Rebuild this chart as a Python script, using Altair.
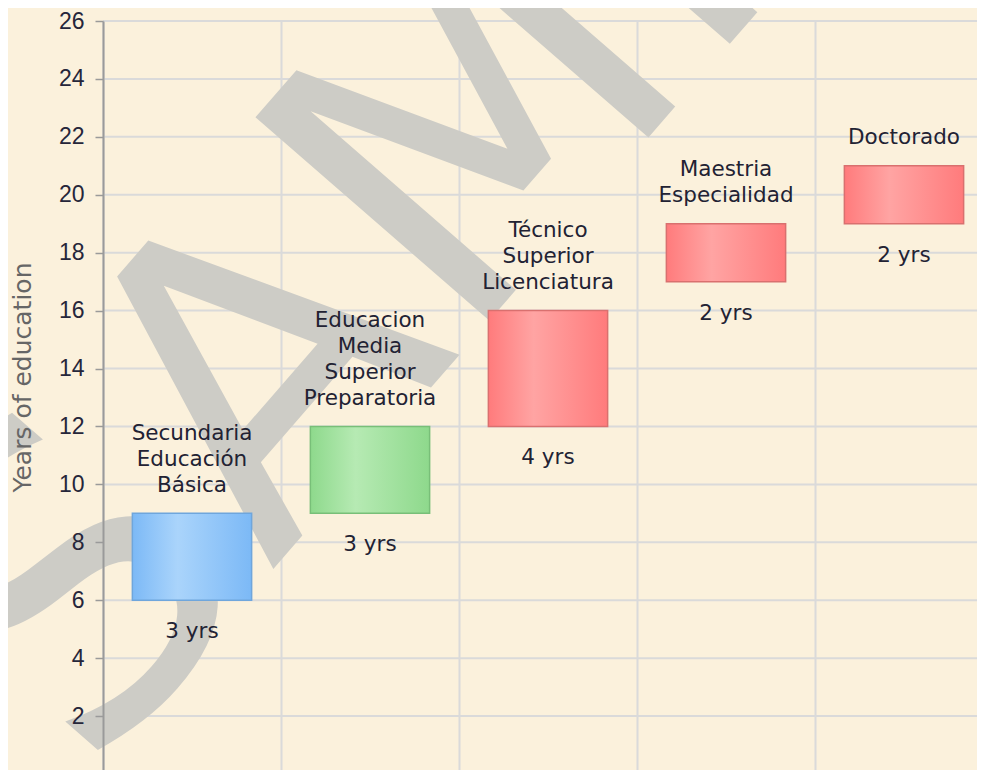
import altair as alt
import pandas as pd

# ---- data ----
levels = [
    "Secundaria Educación Básica",
    "Educacion Media Superior Preparatoria",
    "Técnico Superior Licenciatura",
    "Maestria Especialidad",
    "Doctorado",
]
level_labels = [
    "Secundaria\nEducación\nBásica",
    "Educacion\nMedia\nSuperior\nPreparatoria",
    "Técnico\nSuperior\nLicenciatura",
    "Maestria\nEspecialidad",
    "Doctorado",
]
start_years = [6, 9, 12, 17, 19]
end_years = [9, 12, 16, 19, 21]
duration_labels = ["3 yrs", "3 yrs", "4 yrs", "2 yrs", "2 yrs"]
color_groups = ["blue", "green", "red", "red", "red"]
y_ticks = list(range(0, 27, 2))
watermark_text = ["SAMPLE"]

df = pd.DataFrame({
    "level": levels,
    "label": level_labels,
    "start": start_years,
    "end": end_years,
    "dur": duration_labels,
    "group": color_groups,
})
df["slot"] = range(len(levels))          # category slot 0..4
df["nlines"] = df["label"].str.count("\n") + 1
ticks_df = pd.DataFrame({"v": y_ticks})

BG = "#FBF1DC"
GRID = "#DADADA"
LINE_H = 26
BAR_FRAC = 0.67

# visible window: the reference is a crop of a larger chart
PLOT_W, PLOT_H = 874, 749
SLOT_PX = 178.0             # width of one category slot in pixels
UNIT_PX = 753.0 / 26.0      # pixels per year of education

x_scale = alt.Scale(domain=[0, PLOT_W / SLOT_PX], nice=False, zero=False)
x_axis = alt.Axis(values=list(range(len(levels) + 1)), labels=False, ticks=False, title=None,
                  domain=False, grid=True, gridColor=GRID, gridWidth=2)
y_scale = alt.Scale(domain=[26 - PLOT_H / UNIT_PX, 26], nice=False, zero=False)
y_axis = alt.Axis(
    values=y_ticks, title="Years of education", grid=False,
    domainColor="#9A9A9A", domainWidth=2, tickColor="#9A9A9A", tickSize=8, tickWidth=1.5,
    labelFont="Liberation Sans", labelFontSize=23, labelColor="#26263A", labelPadding=11,
    titleFont="DejaVu Sans", titleFontSize=25, titleFontWeight="normal", titleColor="#666666",
    titleAngle=270, titleX=-81, titleY=356, titleAlign="center", titleBaseline="middle",
    zindex=1,
)


def grad(edge, light):
    return alt.LinearGradient(
        gradient="linear", x1=0, x2=1, y1=0, y2=0,
        stops=[
            alt.GradientStop(offset=0, color=edge),
            alt.GradientStop(offset=0.38, color=light),
            alt.GradientStop(offset=1, color=edge),
        ],
    )


styles = {
    "blue": ("#7CB9F6", "#AAD4FB", "#6FA6DC"),
    "green": ("#8ED98C", "#B6EAB3", "#78BF78"),
    "red": ("#FF7B7C", "#FFA4A3", "#D9706F"),
}

base = alt.Chart(df).transform_calculate(
    xc=alt.datum.slot + 0.5,
    xl=alt.datum.slot + (1 - BAR_FRAC) / 2,
    xr=alt.datum.slot + 1 - (1 - BAR_FRAC) / 2,
)

# horizontal grid lines at the y tick values
hgrid = alt.Chart(ticks_df).mark_rule(color=GRID, strokeWidth=2).encode(
    y=alt.Y("v:Q", scale=y_scale, axis=y_axis)
)

watermark = alt.Chart(pd.DataFrame({"t": watermark_text})).mark_text(
    font="DejaVu Sans", fontSize=425, align="left", baseline="alphabetic",
    angle=311, color="#CDCCC6",
).encode(text="t:N", x=alt.value(-14), y=alt.value(760))

bars = []
for g, (edge, light, border) in styles.items():
    bars.append(
        base.transform_filter(alt.datum.group == g)
        .mark_bar(fill=grad(edge, light), stroke=border, strokeWidth=1.5)
        .encode(
            x=alt.X("xl:Q", scale=x_scale, axis=x_axis), x2="xr:Q",
            y=alt.Y("start:Q", scale=y_scale, axis=y_axis), y2="end:Q",
        )
    )

top_texts = []
for n in sorted(df["nlines"].unique()):
    top_texts.append(
        base.transform_filter(alt.datum.nlines == int(n))
        .mark_text(
            font="DejaVu Sans", fontSize=21.5, lineHeight=LINE_H, lineBreak="\n",
            baseline="bottom", dy=-16.5 - (int(n) - 1) * LINE_H, color="#222233",
        )
        .encode(
            x=alt.X("xc:Q", scale=x_scale, axis=x_axis),
            y=alt.Y("end:Q", scale=y_scale, axis=y_axis),
            text="label:N",
        )
    )

bottom_text = base.mark_text(
    font="DejaVu Sans", fontSize=21.5, baseline="middle", dy=32, color="#222233",
).encode(
    x=alt.X("xc:Q", scale=x_scale, axis=x_axis),
    y=alt.Y("start:Q", scale=y_scale, axis=y_axis),
    text="dur:N",
)

chart = alt.layer(hgrid, watermark, *bars, *top_texts, bottom_text).properties(
    width=PLOT_W, height=PLOT_H,
    autosize=alt.AutoSizeParams(type="none"),
    padding={"left": 95, "top": 13, "right": 0, "bottom": 0},
    background=BG,
).configure_view(stroke=None)

chart.save("out.html", embed_options={"renderer": "svg", "actions": False})
